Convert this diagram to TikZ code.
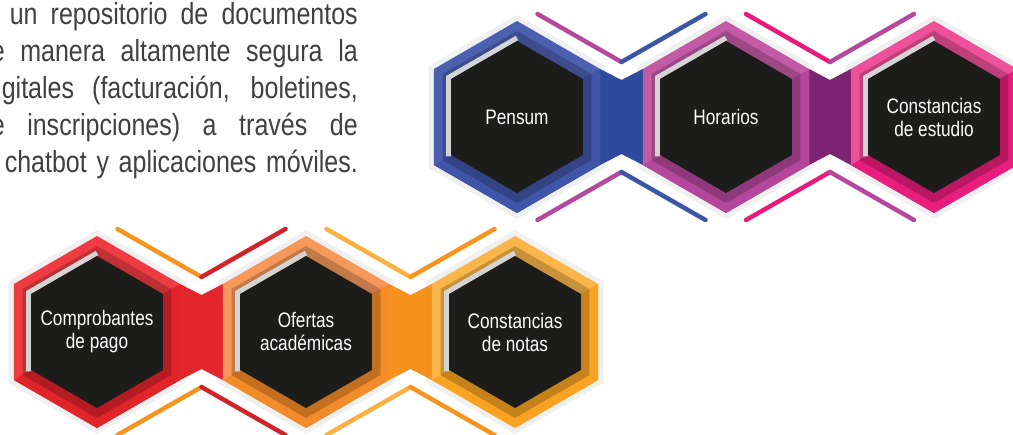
\documentclass[tikz,border=0pt]{standalone}
\usepackage{fontspec}
\setmainfont{Liberation Sans}
\newfontfamily\narrowfont[FakeStretch=0.82]{Liberation Sans}
\usepackage{tikz}
\usetikzlibrary{calc}

\definecolor{blueA}{HTML}{4C60B0}
\definecolor{blueB}{HTML}{3F55A7}
\definecolor{blueband}{HTML}{2E4A9C}
\definecolor{blueline}{HTML}{3C56A6}
\definecolor{purpleA}{HTML}{C35AA6}
\definecolor{purpleB}{HTML}{B4479B}
\definecolor{purpleband}{HTML}{7C2471}
\definecolor{purpleline}{HTML}{B5489C}
\definecolor{pinkA}{HTML}{EE509A}
\definecolor{pinkB}{HTML}{E91D7C}
\definecolor{pinkline}{HTML}{E8197A}
\definecolor{redA}{HTML}{EE3C42}
\definecolor{redB}{HTML}{E1242A}
\definecolor{redband}{HTML}{E3252D}
\definecolor{redline}{HTML}{D3232A}
\definecolor{orangeA}{HTML}{F5985A}
\definecolor{orangeB}{HTML}{F38B28}
\definecolor{orangeband}{HTML}{F6911E}
\definecolor{orangeline}{HTML}{F7941D}
\definecolor{yellowA}{HTML}{FBB64A}
\definecolor{yellowB}{HTML}{F8A321}
\definecolor{yellowline}{HTML}{FBB040}
\definecolor{coregrey}{HTML}{1C1D1B}
\definecolor{bevelgrey}{HTML}{D4D4D4}
\definecolor{paragrey}{HTML}{404040}

% pointy-top hexagon round a centre
\newcommand{\hexagon}[2]{($(#1)+(90:#2)$) -- ($(#1)+(150:#2)$) -- ($(#1)+(210:#2)$)
  -- ($(#1)+(270:#2)$) -- ($(#1)+(330:#2)$) -- ($(#1)+(30:#2)$) -- cycle}

% one cell: centre, light, dark, node name, text
\newcommand{\hexcell}[5]{%
  \fill[#2] \hexagon{#1}{96};
  \fill[#3] ($(#1)+(150:96)$) -- ($(#1)+(90:96)$) -- ($(#1)+(30:96)$)
    -- ($(#1)+(330:96)$) -- (#1) -- cycle;
  \fill[ring] \hexagon{#1}{86};
  \draw[bevel] ($(#1)+(150:79)$) -- ($(#1)+(210:79)$) -- ($(#1)+(270:79)$);
  \fill[core] \hexagon{#1}{76};
  \node[hextext] (#4) at (#1) {#5};}

\begin{document}
\begin{tikzpicture}[
  x=1pt, y=-1pt,
  halo/.style={fill=black!6},
  ring/.style={fill=black, fill opacity=0.2},
  core/.style={fill=coregrey},
  bevel/.style={draw=bevelgrey, line width=5pt, line join=miter},
  decor/.style={line width=4.5pt, line cap=round},
  hextext/.style={text=white, align=center, inner sep=0pt,
    font=\narrowfont\fontsize{21}{23}\selectfont},
  para/.style={text=paragrey, inner sep=0pt, anchor=base east,
    font=\narrowfont\fontsize{30.5}{36}\selectfont},
]
  \useasboundingbox (0,0) rectangle (1013,435);
  \fill[white] (0,0) rectangle (1013,435);

  % paragraph, cut at the left border
  \node[para] (line1) at (358,25)  {\makebox[348pt][s]{un repositorio de documentos}};
  \node[para] (line2) at (358,62)  {\makebox[367pt][s]{e manera altamente segura la}};
  \node[para] (line3) at (358,99)  {\makebox[356pt][s]{gitales (facturación, boletines,}};
  \node[para] (line4) at (358,136) {\makebox[367pt][s]{e inscripciones) a través de}};
  \node[para] (line5) at (358,173) {\makebox[353pt][s]{chatbot y aplicaciones móviles.}};

  % centres and junctions
  \coordinate (c1) at (517,117);
  \coordinate (c2) at (726,117);
  \coordinate (c3) at (934,117);
  \coordinate (c4) at (97,332);
  \coordinate (c5) at (306,332);
  \coordinate (c6) at (515,332);
  \coordinate (j1) at ($(c1)!0.5!(c2)$);
  \coordinate (j2) at ($(c2)!0.5!(c3)$);
  \coordinate (j4) at ($(c4)!0.5!(c5)$);
  \coordinate (j5) at ($(c5)!0.5!(c6)$);

  % soft shadow
  \foreach \c in {c1,c2,c3,c4,c5,c6}
    \fill[halo] \hexagon{\c}{102};

  % bands between cells
  \fill[blueband] ($(c1)+(330:96)$) -- ($(j1)+(0,-37)$) -- ($(c2)+(210:96)$)
    -- ($(c2)+(150:96)$) -- ($(j1)+(0,37)$) -- ($(c1)+(30:96)$) -- cycle;
  \fill[purpleband] ($(c2)+(330:96)$) -- ($(j2)+(0,-37)$) -- ($(c3)+(210:96)$)
    -- ($(c3)+(150:96)$) -- ($(j2)+(0,37)$) -- ($(c2)+(30:96)$) -- cycle;
  \fill[redband] ($(c4)+(330:96)$) -- ($(j4)+(0,-37)$) -- ($(c5)+(210:96)$)
    -- ($(c5)+(150:96)$) -- ($(j4)+(0,37)$) -- ($(c4)+(30:96)$) -- cycle;
  \fill[orangeband] ($(c5)+(330:96)$) -- ($(j5)+(0,-37)$) -- ($(c6)+(210:96)$)
    -- ($(c6)+(150:96)$) -- ($(j5)+(0,37)$) -- ($(c5)+(30:96)$) -- cycle;

  % crossing strokes above and below each junction
  \draw[decor, purpleline] ($(j1)+(-84,-103)$) -- ($(j1)+(0,-55)$);
  \draw[decor, blueline]   ($(j1)+(0,-55)$) -- ($(j1)+(84,-103)$);
  \draw[decor, purpleline] ($(j1)+(-84,103)$) -- ($(j1)+(0,55)$);
  \draw[decor, blueline]   ($(j1)+(0,55)$) -- ($(j1)+(84,103)$);
  \draw[decor, pinkline]   ($(j2)+(-84,-103)$) -- ($(j2)+(0,-55)$);
  \draw[decor, purpleline] ($(j2)+(0,-55)$) -- ($(j2)+(84,-103)$);
  \draw[decor, pinkline]   ($(j2)+(-84,103)$) -- ($(j2)+(0,55)$);
  \draw[decor, purpleline] ($(j2)+(0,55)$) -- ($(j2)+(84,103)$);
  \draw[decor, orangeline] ($(j4)+(-84,-103)$) -- ($(j4)+(0,-55)$);
  \draw[decor, redline]    ($(j4)+(0,-55)$) -- ($(j4)+(84,-103)$);
  \draw[decor, orangeline] ($(j4)+(-84,103)$) -- ($(j4)+(0,55)$);
  \draw[decor, redline]    ($(j4)+(0,55)$) -- ($(j4)+(84,103)$);
  \draw[decor, yellowline] ($(j5)+(-84,-103)$) -- ($(j5)+(0,-55)$);
  \draw[decor, orangeline] ($(j5)+(0,-55)$) -- ($(j5)+(84,-103)$);
  \draw[decor, yellowline] ($(j5)+(-84,103)$) -- ($(j5)+(0,55)$);
  \draw[decor, orangeline] ($(j5)+(0,55)$) -- ($(j5)+(84,103)$);

  % cells
  \hexcell{c1}{blueA}{blueB}{pensum}{Pensum}
  \hexcell{c2}{purpleA}{purpleB}{horarios}{Horarios}
  \hexcell{c3}{pinkA}{pinkB}{estudio}{Constancias\\de estudio}
  \hexcell{c4}{redA}{redB}{pago}{Comprobantes\\de pago}
  \hexcell{c5}{orangeA}{orangeB}{ofertas}{Ofertas\\académicas}
  \hexcell{c6}{yellowA}{yellowB}{notas}{Constancias\\de notas}
\end{tikzpicture}
\end{document}
